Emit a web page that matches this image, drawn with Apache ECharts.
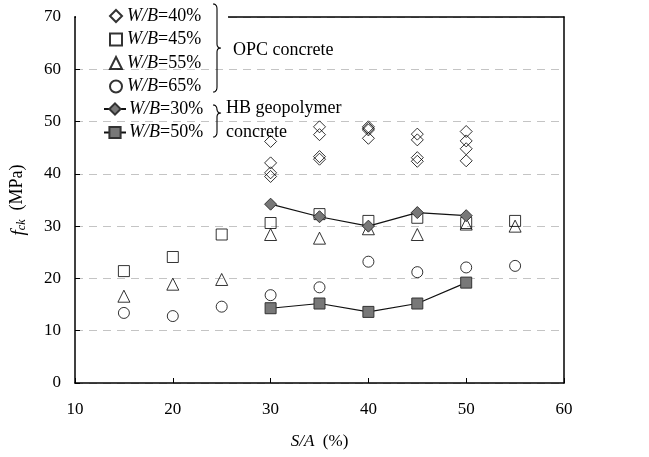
<!DOCTYPE html>
<html>
<head>
<meta charset="utf-8">
<script src="https://cdn.jsdelivr.net/npm/echarts@6/dist/echarts.min.js"></script>
<style>
  html, body { margin: 0; padding: 0; background: #fff; }
  #chart { width: 649px; height: 457px; }
</style>
</head>
<body>
<div id="chart"></div>
<script>
// Sand-to-aggregate ratio (S/A, %) vs. characteristic compressive strength f_ck (MPa)
const opc40 = [[30,46.2],[30,42.1],[30,40.2],[30,39.5],
               [35,49.0],[35,47.5],[35,43.3],[35,42.8],
               [40,49.0],[40,48.7],[40,48.4],[40,46.8],
               [45,47.6],[45,46.5],[45,43.1],[45,42.4],
               [50,48.1],[50,46.3],[50,44.8],[50,42.5]];
const opc45 = [[15,21.4],[20,24.1],[25,28.4],[30,30.6],[35,32.3],[40,31.0],[45,31.6],[50,30.6],[55,31.0]];
const opc55 = [[15,16.6],[20,18.9],[25,19.8],[30,28.4],[35,27.7],[40,29.5],[45,28.4],[50,30.4],[55,30.0]];
const opc65 = [[15,13.4],[20,12.8],[25,14.6],[30,16.8],[35,18.3],[40,23.2],[45,21.2],[50,22.1],[55,22.4]];
const hb30  = [[30,34.2],[35,31.8],[40,30.0],[45,32.6],[50,32.0]];
const hb50  = [[30,14.3],[35,15.2],[40,13.6],[45,15.2],[50,19.2]];

const opcNames = ['W/B=40%', 'W/B=45%', 'W/B=55%', 'W/B=65%'];
const hbNames  = ['W/B=30%', 'W/B=50%'];

const SERIF = '"Liberation Serif", "Times New Roman", serif';
const gridBox = { left: 74, right: 85, top: 17, bottom: 74 };

const hollow = { color: 'rgba(0,0,0,0)', borderColor: '#000', borderWidth: 1 };
const filled = { color: '#787878', borderColor: '#333', borderWidth: 1 };

function scatter(name, data, symbol, size) {
  return { name, type: 'scatter', data, symbol, symbolSize: size, itemStyle: hollow, z: 2 };
}
function line(name, data, symbol, size) {
  return {
    name, type: 'line', data, symbol, symbolSize: size, showSymbol: true,
    itemStyle: filled, lineStyle: { color: '#111', width: 1.2 }, z: 3
  };
}

// sample a quadratic Bezier into points
function quad(p0, c, p1, n, out) {
  for (let i = 0; i <= n; i++) {
    const t = i / n, u = 1 - t;
    out.push([u*u*p0[0] + 2*u*t*c[0] + t*t*p1[0], u*u*p0[1] + 2*u*t*c[1] + t*t*p1[1]]);
  }
}
// curly brace polyline: vertical span y0..y1 at x, pointing right at ym
function brace(x, y0, y1, ym) {
  const pts = [];
  quad([x-4, y0], [x, y0], [x, y0+5], 6, pts);
  quad([x, ym-4], [x, ym], [x+4, ym], 6, pts);
  quad([x+4, ym], [x, ym], [x, ym+4], 6, pts);
  quad([x, y1-5], [x, y1], [x-4, y1], 6, pts);
  return pts;
}

const legendText = {
  fontFamily: SERIF, fontSize: 18, color: '#000', lineHeight: 16,
  rich: { i: { fontStyle: 'italic', fontFamily: SERIF, fontSize: 18, color: '#000', lineHeight: 16 } }
};
const wbLabel = n => '{i|W/B}' + n.slice(3);

const chart = echarts.init(document.getElementById('chart'), null, { renderer: 'canvas' });
chart.setOption({
  animation: false,
  backgroundColor: '#fff',
  grid: gridBox,
  legend: [{
    data: opcNames,
    orient: 'vertical',
    left: 109, top: 7,
    padding: 0, itemGap: 5.5,
    itemWidth: 12, itemHeight: 12,
    selectedMode: false, z: 6,
    formatter: wbLabel,
    textStyle: legendText
  }, {
    data: hbNames,
    orient: 'vertical',
    left: 103, top: 100,
    padding: 0, itemGap: 5.5,
    itemWidth: 22, itemHeight: 14,
    selectedMode: false, z: 6,
    formatter: wbLabel,
    textStyle: Object.assign({}, legendText, { padding: [0, 0, 0, -2] })
  }],
  xAxis: [{
    type: 'value', min: 10, max: 60, interval: 10,
    name: '{i|S/A}  (%)', nameLocation: 'middle', nameGap: 50,
    nameTextStyle: { fontFamily: SERIF, fontSize: 17, color: '#000',
      rich: { i: { fontStyle: 'italic', fontFamily: SERIF, fontSize: 17, color: '#000' } } },
    axisLine: { lineStyle: { color: '#000', width: 1.5 } },
    axisTick: { inside: true, length: 5, lineStyle: { color: '#000' } },
    axisLabel: { fontFamily: SERIF, fontSize: 17, color: '#000', margin: 18 },
    splitLine: { show: false }
  }, {
    type: 'value', min: 10, max: 60, position: 'top',
    axisLine: { show: true, onZero: false, lineStyle: { color: '#000', width: 1.5 } },
    axisTick: { show: false }, axisLabel: { show: false }, splitLine: { show: false }
  }],
  yAxis: [{
    type: 'value', min: 0, max: 70, interval: 10,
    name: '{f|f}{s|ck}  (MPa)', nameLocation: 'middle', nameGap: 47, nameRotate: 90,
    nameTextStyle: { fontFamily: SERIF, fontSize: 18, color: '#000',
      rich: {
        f: { fontStyle: 'italic', fontFamily: SERIF, fontSize: 19, color: '#000', verticalAlign: 'bottom', lineHeight: 22 },
        s: { fontStyle: 'italic', fontFamily: SERIF, fontSize: 12, color: '#000', verticalAlign: 'bottom', lineHeight: 15 }
      } },
    axisLine: { show: true, lineStyle: { color: '#000', width: 1.5 } },
    axisTick: { show: true, inside: true, length: 5, lineStyle: { color: '#000' } },
    axisLabel: { fontFamily: SERIF, fontSize: 17, color: '#000', margin: 14 },
    splitLine: { show: true, lineStyle: { color: '#c4c4c4', type: [8, 6], width: 1 } }
  }, {
    type: 'value', min: 0, max: 70, position: 'right',
    axisLine: { show: true, lineStyle: { color: '#000', width: 1.5 } },
    axisTick: { show: false }, axisLabel: { show: false }, splitLine: { show: false }
  }],
  graphic: [
    // white panel behind the legend (hides the frame's top edge there)
    { type: 'rect', shape: { x: 76, y: 8, width: 152, height: 16 }, style: { fill: '#fff' }, z: 5, silent: true },
    { type: 'polyline', shape: { points: brace(217, 4, 92, 48) }, style: { stroke: '#000', fill: null, lineWidth: 1.1 }, z: 7 },
    { type: 'polyline', shape: { points: brace(217, 105, 137, 113) }, style: { stroke: '#000', fill: null, lineWidth: 1.1 }, z: 7 },
    { type: 'text', x: 233, y: 41, style: { text: 'OPC concrete', font: '18px ' + SERIF, fill: '#000' }, z: 7 },
    { type: 'text', x: 226, y: 99, style: { text: 'HB geopolymer', font: '18px ' + SERIF, fill: '#000' }, z: 7 },
    { type: 'text', x: 226, y: 123, style: { text: 'concrete', font: '18px ' + SERIF, fill: '#000' }, z: 7 }
  ],
  series: [
    scatter(opcNames[0], opc40, 'diamond', 12),
    scatter(opcNames[1], opc45, 'rect', 11),
    scatter(opcNames[2], opc55, 'triangle', 12),
    scatter(opcNames[3], opc65, 'circle', 11),
    line(hbNames[0], hb30, 'diamond', 12),
    line(hbNames[1], hb50, 'rect', 11)
  ]
});
</script>
</body>
</html>
